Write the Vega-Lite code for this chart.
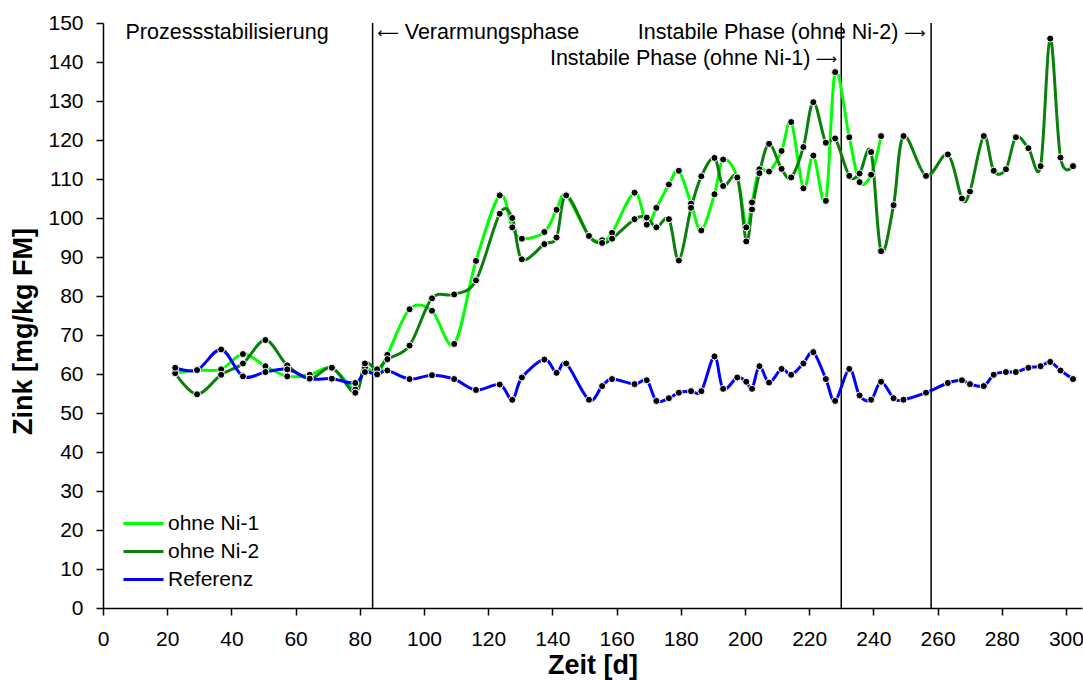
{
  "$schema": "https://vega.github.io/schema/vega-lite/v6.json",
  "width": 979,
  "height": 585,
  "autosize": {"type": "none"},
  "padding": {"left": 103, "top": 23, "right": 1, "bottom": 72},
  "background": "white",
  "config": {
    "font": "Liberation Sans",
    "view": {"stroke": null},
    "axis": {
      "grid": false,
      "domainColor": "black",
      "domainWidth": 1.5,
      "tickColor": "black",
      "tickWidth": 1.5,
      "tickSize": 7,
      "labelColor": "black",
      "labelFont": "Liberation Sans",
      "labelFontSize": 21,
      "labelPadding": 13,
      "labelFlush": false,
      "labelOverlap": false,
      "titleColor": "black",
      "titleFont": "Liberation Sans",
      "titleFontSize": 27,
      "titleFontWeight": "bold"
    }
  },
  "datasets": {
    "zn": [
      {"Tag": 22.5, "Serie": "ohne Ni-1", "Zink": 60.2},
      {"Tag": 29.3, "Serie": "ohne Ni-1", "Zink": 61.0},
      {"Tag": 36.8, "Serie": "ohne Ni-1", "Zink": 61.2},
      {"Tag": 43.6, "Serie": "ohne Ni-1", "Zink": 65.1},
      {"Tag": 50.6, "Serie": "ohne Ni-1", "Zink": 62.0},
      {"Tag": 57.4, "Serie": "ohne Ni-1", "Zink": 59.4},
      {"Tag": 64.4, "Serie": "ohne Ni-1", "Zink": 59.8},
      {"Tag": 71.3, "Serie": "ohne Ni-1", "Zink": 61.6},
      {"Tag": 78.6, "Serie": "ohne Ni-1", "Zink": 56.0},
      {"Tag": 81.6, "Serie": "ohne Ni-1", "Zink": 61.6},
      {"Tag": 85.4, "Serie": "ohne Ni-1", "Zink": 59.9},
      {"Tag": 88.6, "Serie": "ohne Ni-1", "Zink": 64.9},
      {"Tag": 95.5, "Serie": "ohne Ni-1", "Zink": 76.6},
      {"Tag": 102.5, "Serie": "ohne Ni-1", "Zink": 76.2},
      {"Tag": 109.4, "Serie": "ohne Ni-1", "Zink": 67.7},
      {"Tag": 116.2, "Serie": "ohne Ni-1", "Zink": 89.0},
      {"Tag": 123.6, "Serie": "ohne Ni-1", "Zink": 105.8},
      {"Tag": 127.5, "Serie": "ohne Ni-1", "Zink": 97.6},
      {"Tag": 130.5, "Serie": "ohne Ni-1", "Zink": 94.7},
      {"Tag": 137.5, "Serie": "ohne Ni-1", "Zink": 96.4},
      {"Tag": 141.3, "Serie": "ohne Ni-1", "Zink": 102.1},
      {"Tag": 144.3, "Serie": "ohne Ni-1", "Zink": 105.8},
      {"Tag": 151.4, "Serie": "ohne Ni-1", "Zink": 95.4},
      {"Tag": 155.5, "Serie": "ohne Ni-1", "Zink": 94.3},
      {"Tag": 158.6, "Serie": "ohne Ni-1", "Zink": 96.2},
      {"Tag": 165.6, "Serie": "ohne Ni-1", "Zink": 106.5},
      {"Tag": 169.4, "Serie": "ohne Ni-1", "Zink": 98.3},
      {"Tag": 172.4, "Serie": "ohne Ni-1", "Zink": 102.6},
      {"Tag": 176.3, "Serie": "ohne Ni-1", "Zink": 108.6},
      {"Tag": 179.4, "Serie": "ohne Ni-1", "Zink": 112.1},
      {"Tag": 183.2, "Serie": "ohne Ni-1", "Zink": 103.7},
      {"Tag": 186.4, "Serie": "ohne Ni-1", "Zink": 96.8},
      {"Tag": 190.5, "Serie": "ohne Ni-1", "Zink": 106.1},
      {"Tag": 193.2, "Serie": "ohne Ni-1", "Zink": 115.0},
      {"Tag": 197.6, "Serie": "ohne Ni-1", "Zink": 110.4},
      {"Tag": 200.4, "Serie": "ohne Ni-1", "Zink": 97.6},
      {"Tag": 202.2, "Serie": "ohne Ni-1", "Zink": 104.0},
      {"Tag": 204.5, "Serie": "ohne Ni-1", "Zink": 112.5},
      {"Tag": 207.5, "Serie": "ohne Ni-1", "Zink": 111.9},
      {"Tag": 211.4, "Serie": "ohne Ni-1", "Zink": 117.2},
      {"Tag": 214.4, "Serie": "ohne Ni-1", "Zink": 124.6},
      {"Tag": 218.2, "Serie": "ohne Ni-1", "Zink": 107.6},
      {"Tag": 221.3, "Serie": "ohne Ni-1", "Zink": 116.0},
      {"Tag": 225.2, "Serie": "ohne Ni-1", "Zink": 104.4},
      {"Tag": 228.1, "Serie": "ohne Ni-1", "Zink": 137.4},
      {"Tag": 232.5, "Serie": "ohne Ni-1", "Zink": 120.7},
      {"Tag": 235.7, "Serie": "ohne Ni-1", "Zink": 109.2},
      {"Tag": 239.3, "Serie": "ohne Ni-1", "Zink": 111.1},
      {"Tag": 242.4, "Serie": "ohne Ni-1", "Zink": 121.0},

      {"Tag": 22.5, "Serie": "ohne Ni-2", "Zink": 60.2},
      {"Tag": 29.3, "Serie": "ohne Ni-2", "Zink": 54.8},
      {"Tag": 36.8, "Serie": "ohne Ni-2", "Zink": 59.8},
      {"Tag": 43.6, "Serie": "ohne Ni-2", "Zink": 62.7},
      {"Tag": 50.6, "Serie": "ohne Ni-2", "Zink": 68.7},
      {"Tag": 57.4, "Serie": "ohne Ni-2", "Zink": 62.2},
      {"Tag": 64.4, "Serie": "ohne Ni-2", "Zink": 58.8},
      {"Tag": 71.3, "Serie": "ohne Ni-2", "Zink": 61.6},
      {"Tag": 78.6, "Serie": "ohne Ni-2", "Zink": 55.2},
      {"Tag": 81.6, "Serie": "ohne Ni-2", "Zink": 62.7},
      {"Tag": 85.4, "Serie": "ohne Ni-2", "Zink": 61.2},
      {"Tag": 88.6, "Serie": "ohne Ni-2", "Zink": 63.8},
      {"Tag": 95.5, "Serie": "ohne Ni-2", "Zink": 67.3},
      {"Tag": 102.5, "Serie": "ohne Ni-2", "Zink": 79.4},
      {"Tag": 109.4, "Serie": "ohne Ni-2", "Zink": 80.4},
      {"Tag": 116.2, "Serie": "ohne Ni-2", "Zink": 84.0},
      {"Tag": 123.6, "Serie": "ohne Ni-2", "Zink": 101.1},
      {"Tag": 127.5, "Serie": "ohne Ni-2", "Zink": 100.0},
      {"Tag": 130.5, "Serie": "ohne Ni-2", "Zink": 89.4},
      {"Tag": 137.5, "Serie": "ohne Ni-2", "Zink": 93.3},
      {"Tag": 141.3, "Serie": "ohne Ni-2", "Zink": 95.0},
      {"Tag": 144.3, "Serie": "ohne Ni-2", "Zink": 105.8},
      {"Tag": 151.4, "Serie": "ohne Ni-2", "Zink": 95.4},
      {"Tag": 155.5, "Serie": "ohne Ni-2", "Zink": 93.6},
      {"Tag": 158.6, "Serie": "ohne Ni-2", "Zink": 94.7},
      {"Tag": 165.6, "Serie": "ohne Ni-2", "Zink": 99.7},
      {"Tag": 169.4, "Serie": "ohne Ni-2", "Zink": 100.1},
      {"Tag": 172.4, "Serie": "ohne Ni-2", "Zink": 97.6},
      {"Tag": 176.3, "Serie": "ohne Ni-2", "Zink": 99.7},
      {"Tag": 179.4, "Serie": "ohne Ni-2", "Zink": 89.1},
      {"Tag": 183.2, "Serie": "ohne Ni-2", "Zink": 102.6},
      {"Tag": 186.4, "Serie": "ohne Ni-2", "Zink": 110.7},
      {"Tag": 190.5, "Serie": "ohne Ni-2", "Zink": 115.4},
      {"Tag": 193.2, "Serie": "ohne Ni-2", "Zink": 108.2},
      {"Tag": 197.6, "Serie": "ohne Ni-2", "Zink": 110.4},
      {"Tag": 200.4, "Serie": "ohne Ni-2", "Zink": 94.0},
      {"Tag": 202.2, "Serie": "ohne Ni-2", "Zink": 102.2},
      {"Tag": 204.5, "Serie": "ohne Ni-2", "Zink": 111.5},
      {"Tag": 207.5, "Serie": "ohne Ni-2", "Zink": 119.0},
      {"Tag": 211.4, "Serie": "ohne Ni-2", "Zink": 112.6},
      {"Tag": 214.4, "Serie": "ohne Ni-2", "Zink": 110.4},
      {"Tag": 218.2, "Serie": "ohne Ni-2", "Zink": 118.2},
      {"Tag": 221.3, "Serie": "ohne Ni-2", "Zink": 129.7},
      {"Tag": 225.2, "Serie": "ohne Ni-2", "Zink": 119.3},
      {"Tag": 228.1, "Serie": "ohne Ni-2", "Zink": 120.4},
      {"Tag": 232.5, "Serie": "ohne Ni-2", "Zink": 110.8},
      {"Tag": 235.7, "Serie": "ohne Ni-2", "Zink": 111.4},
      {"Tag": 239.3, "Serie": "ohne Ni-2", "Zink": 116.9},
      {"Tag": 242.4, "Serie": "ohne Ni-2", "Zink": 91.5},
      {"Tag": 246.3, "Serie": "ohne Ni-2", "Zink": 103.3},
      {"Tag": 249.4, "Serie": "ohne Ni-2", "Zink": 121.0},
      {"Tag": 256.4, "Serie": "ohne Ni-2", "Zink": 110.8},
      {"Tag": 263.2, "Serie": "ohne Ni-2", "Zink": 116.3},
      {"Tag": 267.6, "Serie": "ohne Ni-2", "Zink": 105.0},
      {"Tag": 270.1, "Serie": "ohne Ni-2", "Zink": 106.8},
      {"Tag": 274.4, "Serie": "ohne Ni-2", "Zink": 121.0},
      {"Tag": 277.5, "Serie": "ohne Ni-2", "Zink": 112.1},
      {"Tag": 281.3, "Serie": "ohne Ni-2", "Zink": 112.5},
      {"Tag": 284.4, "Serie": "ohne Ni-2", "Zink": 120.7},
      {"Tag": 288.3, "Serie": "ohne Ni-2", "Zink": 117.9},
      {"Tag": 292.1, "Serie": "ohne Ni-2", "Zink": 113.3},
      {"Tag": 295.1, "Serie": "ohne Ni-2", "Zink": 146.0},
      {"Tag": 298.3, "Serie": "ohne Ni-2", "Zink": 115.5},
      {"Tag": 302.2, "Serie": "ohne Ni-2", "Zink": 113.3},

      {"Tag": 22.5, "Serie": "Referenz", "Zink": 61.6},
      {"Tag": 29.3, "Serie": "Referenz", "Zink": 61.0},
      {"Tag": 36.8, "Serie": "Referenz", "Zink": 66.3},
      {"Tag": 43.6, "Serie": "Referenz", "Zink": 59.4},
      {"Tag": 50.6, "Serie": "Referenz", "Zink": 60.5},
      {"Tag": 57.4, "Serie": "Referenz", "Zink": 61.2},
      {"Tag": 64.4, "Serie": "Referenz", "Zink": 58.8},
      {"Tag": 71.3, "Serie": "Referenz", "Zink": 58.8},
      {"Tag": 78.6, "Serie": "Referenz", "Zink": 57.7},
      {"Tag": 81.6, "Serie": "Referenz", "Zink": 60.5},
      {"Tag": 85.4, "Serie": "Referenz", "Zink": 59.9},
      {"Tag": 88.6, "Serie": "Referenz", "Zink": 60.9},
      {"Tag": 95.5, "Serie": "Referenz", "Zink": 58.7},
      {"Tag": 102.5, "Serie": "Referenz", "Zink": 59.7},
      {"Tag": 109.4, "Serie": "Referenz", "Zink": 58.7},
      {"Tag": 116.2, "Serie": "Referenz", "Zink": 55.9},
      {"Tag": 123.6, "Serie": "Referenz", "Zink": 57.3},
      {"Tag": 127.5, "Serie": "Referenz", "Zink": 53.4},
      {"Tag": 130.5, "Serie": "Referenz", "Zink": 59.1},
      {"Tag": 137.5, "Serie": "Referenz", "Zink": 63.7},
      {"Tag": 141.3, "Serie": "Referenz", "Zink": 60.3},
      {"Tag": 144.3, "Serie": "Referenz", "Zink": 62.7},
      {"Tag": 151.4, "Serie": "Referenz", "Zink": 53.4},
      {"Tag": 155.5, "Serie": "Referenz", "Zink": 56.9},
      {"Tag": 158.6, "Serie": "Referenz", "Zink": 58.7},
      {"Tag": 165.6, "Serie": "Referenz", "Zink": 57.4},
      {"Tag": 169.4, "Serie": "Referenz", "Zink": 58.4},
      {"Tag": 172.4, "Serie": "Referenz", "Zink": 53.1},
      {"Tag": 176.3, "Serie": "Referenz", "Zink": 53.8},
      {"Tag": 179.4, "Serie": "Referenz", "Zink": 55.2},
      {"Tag": 183.2, "Serie": "Referenz", "Zink": 55.6},
      {"Tag": 186.4, "Serie": "Referenz", "Zink": 55.6},
      {"Tag": 190.5, "Serie": "Referenz", "Zink": 64.5},
      {"Tag": 193.2, "Serie": "Referenz", "Zink": 56.2},
      {"Tag": 197.6, "Serie": "Referenz", "Zink": 59.1},
      {"Tag": 200.4, "Serie": "Referenz", "Zink": 58.0},
      {"Tag": 202.2, "Serie": "Referenz", "Zink": 56.2},
      {"Tag": 204.5, "Serie": "Referenz", "Zink": 62.0},
      {"Tag": 207.5, "Serie": "Referenz", "Zink": 57.8},
      {"Tag": 211.4, "Serie": "Referenz", "Zink": 61.3},
      {"Tag": 214.4, "Serie": "Referenz", "Zink": 59.8},
      {"Tag": 218.2, "Serie": "Referenz", "Zink": 62.7},
      {"Tag": 221.3, "Serie": "Referenz", "Zink": 65.6},
      {"Tag": 225.2, "Serie": "Referenz", "Zink": 58.7},
      {"Tag": 228.1, "Serie": "Referenz", "Zink": 53.1},
      {"Tag": 232.5, "Serie": "Referenz", "Zink": 61.3},
      {"Tag": 235.7, "Serie": "Referenz", "Zink": 54.5},
      {"Tag": 239.3, "Serie": "Referenz", "Zink": 53.4},
      {"Tag": 242.4, "Serie": "Referenz", "Zink": 58.0},
      {"Tag": 246.3, "Serie": "Referenz", "Zink": 53.8},
      {"Tag": 249.4, "Serie": "Referenz", "Zink": 53.4},
      {"Tag": 256.4, "Serie": "Referenz", "Zink": 55.2},
      {"Tag": 263.2, "Serie": "Referenz", "Zink": 57.7},
      {"Tag": 267.6, "Serie": "Referenz", "Zink": 58.4},
      {"Tag": 270.1, "Serie": "Referenz", "Zink": 57.4},
      {"Tag": 274.4, "Serie": "Referenz", "Zink": 56.9},
      {"Tag": 277.5, "Serie": "Referenz", "Zink": 59.8},
      {"Tag": 281.3, "Serie": "Referenz", "Zink": 60.5},
      {"Tag": 284.4, "Serie": "Referenz", "Zink": 60.5},
      {"Tag": 288.3, "Serie": "Referenz", "Zink": 61.6},
      {"Tag": 292.1, "Serie": "Referenz", "Zink": 62.0},
      {"Tag": 295.1, "Serie": "Referenz", "Zink": 63.1},
      {"Tag": 298.3, "Serie": "Referenz", "Zink": 60.9},
      {"Tag": 302.2, "Serie": "Referenz", "Zink": 58.7}
    ],
    "phasen": [
      {"Tag": 84},
      {"Tag": 230},
      {"Tag": 258}
    ],
    "links": [
      {"Tag": 7, "Zink": 147.4, "Text": "Prozessstabilisierung"},
      {"Tag": 94.0, "Zink": 147.4, "Text": "Verarmungsphase"}
    ],
    "rechts": [
      {"Tag": 247.8, "Zink": 147.4, "Text": "Instabile Phase (ohne Ni-2)"},
      {"Tag": 220.4, "Zink": 140.8, "Text": "Instabile Phase (ohne Ni-1)"}
    ],
    "pfeile": [
      {"Tag": 88.8, "Zink": 147.4, "Text": "⟵"},
      {"Tag": 252.9, "Zink": 147.4, "Text": "⟶"},
      {"Tag": 225.3, "Zink": 140.8, "Text": "⟶"}
    ]
  },
  "layer": [
    {
      "data": {"name": "phasen"},
      "mark": {"type": "rule", "color": "black", "strokeWidth": 1.5},
      "encoding": {
        "x": {
          "field": "Tag",
          "type": "quantitative",
          "scale": {"domain": [0, 305], "nice": false, "zero": false},
          "axis": {
            "title": "Zeit [d]",
            "values": [0, 10, 20, 30, 40, 50, 60, 70, 80, 90, 100, 110, 120, 130, 140, 150, 160, 170, 180, 190, 200, 210, 220, 230, 240, 250, 260, 270, 280, 290, 300],
            "labelExpr": "datum.value % 20 === 0 ? datum.label : ''",
            "titleY": 65,
            "titleBaseline": "alphabetic",
            "encode": {"ticks": {"update": {"y2": {"signal": "datum.value % 20 === 0 ? 7 : 4"}}}}
          }
        }
      }
    },
    {
      "data": {"name": "zn"},
      "mark": {"type": "line", "interpolate": "cardinal", "strokeWidth": 3},
      "encoding": {
        "x": {"field": "Tag", "type": "quantitative"},
        "y": {
          "field": "Zink",
          "type": "quantitative",
          "scale": {"domain": [0, 150], "nice": false},
          "axis": {
            "title": "Zink [mg/kg FM]",
            "values": [0, 10, 20, 30, 40, 50, 60, 70, 80, 90, 100, 110, 120, 130, 140, 150],
            "titleAngle": -90,
            "titleX": -72,
            "titleY": 308,
            "titleAlign": "center",
            "titleBaseline": "alphabetic"
          }
        },
        "color": {
          "field": "Serie",
          "type": "nominal",
          "scale": {"domain": ["ohne Ni-1", "ohne Ni-2", "Referenz"], "range": ["#00FF00", "#0A800A", "#0000FF"]},
          "legend": {
            "title": null,
            "orient": "none",
            "legendX": 29,
            "legendY": 489,
            "symbolType": "M-2,0H2",
            "symbolSize": 400,
            "symbolStrokeWidth": 3,
            "labelFontSize": 21,
            "labelFont": "Liberation Sans",
            "labelColor": "black",
            "labelOffset": 13,
            "rowPadding": 6,
            "padding": 0
          }
        },
        "order": {"field": "Tag", "type": "quantitative"}
      }
    },
    {
      "data": {"name": "zn"},
      "mark": {"type": "point", "filled": true, "fill": "black", "stroke": "white", "strokeWidth": 1, "size": 50, "opacity": 1},
      "encoding": {
        "x": {"field": "Tag", "type": "quantitative"},
        "y": {
          "field": "Zink",
          "type": "quantitative",
          "axis": {
            "title": "Zink [mg/kg FM]",
            "values": [0, 10, 20, 30, 40, 50, 60, 70, 80, 90, 100, 110, 120, 130, 140, 150],
            "titleAngle": -90,
            "titleX": -72,
            "titleY": 308,
            "titleAlign": "center",
            "titleBaseline": "alphabetic"
          }
        },
        "detail": {"field": "Serie", "type": "nominal"}
      }
    },
    {
      "data": {"name": "links"},
      "mark": {"type": "text", "align": "left", "baseline": "middle", "fontSize": 21.5, "font": "Liberation Sans", "color": "black"},
      "encoding": {
        "x": {"field": "Tag", "type": "quantitative"},
        "y": {
          "field": "Zink",
          "type": "quantitative",
          "axis": {
            "title": "Zink [mg/kg FM]",
            "values": [0, 10, 20, 30, 40, 50, 60, 70, 80, 90, 100, 110, 120, 130, 140, 150],
            "titleAngle": -90,
            "titleX": -72,
            "titleY": 308,
            "titleAlign": "center",
            "titleBaseline": "alphabetic"
          }
        },
        "text": {"field": "Text"}
      }
    },
    {
      "data": {"name": "rechts"},
      "mark": {"type": "text", "align": "right", "baseline": "middle", "fontSize": 21.5, "font": "Liberation Sans", "color": "black"},
      "encoding": {
        "x": {"field": "Tag", "type": "quantitative"},
        "y": {
          "field": "Zink",
          "type": "quantitative",
          "axis": {
            "title": "Zink [mg/kg FM]",
            "values": [0, 10, 20, 30, 40, 50, 60, 70, 80, 90, 100, 110, 120, 130, 140, 150],
            "titleAngle": -90,
            "titleX": -72,
            "titleY": 308,
            "titleAlign": "center",
            "titleBaseline": "alphabetic"
          }
        },
        "text": {"field": "Text"}
      }
    },
    {
      "data": {"name": "pfeile"},
      "mark": {"type": "text", "align": "center", "baseline": "middle", "fontSize": 15, "font": "DejaVu Sans", "color": "black"},
      "encoding": {
        "x": {"field": "Tag", "type": "quantitative"},
        "y": {
          "field": "Zink",
          "type": "quantitative",
          "axis": {
            "title": "Zink [mg/kg FM]",
            "values": [0, 10, 20, 30, 40, 50, 60, 70, 80, 90, 100, 110, 120, 130, 140, 150],
            "titleAngle": -90,
            "titleX": -72,
            "titleY": 308,
            "titleAlign": "center",
            "titleBaseline": "alphabetic"
          }
        },
        "text": {"field": "Text"}
      }
    }
  ]
}
